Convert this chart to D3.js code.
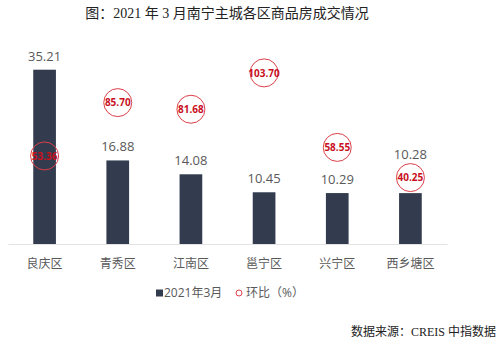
<!DOCTYPE html>
<html>
<head>
<meta charset="utf-8">
<script src="https://cdn.jsdelivr.net/npm/d3@7"></script>
<style>
  html, body { margin: 0; padding: 0; background: #fff; }
  svg { display: block; }
</style>
</head>
<body>
<script>
// 南宁主城各区商品房成交面积（万㎡）及环比
const districts = ["良庆区", "青秀区", "江南区", "邕宁区", "兴宁区", "西乡塘区"];
const volume = [35.21, 16.88, 14.08, 10.45, 10.29, 10.28];
const momChange = [53.36, 85.70, 81.68, 103.70, 58.55, 40.25];
const titleText = "图：2021 年 3 月南宁主城各区商品房成交情况";
const sourceText = "数据来源：CREIS 中指数据";
const legendBar = "2021年3月";
const legendRing = "环比（%）";

const W = 500, H = 344;
const plot = { left: 8, right: 447, top: 46, bottom: 244 };
const ringR = 14;
const sansFont = "'Open Sans', 'Noto Sans CJK SC', sans-serif";
const serifFont = "'Liberation Serif', 'Noto Sans CJK SC', serif";

const svg = d3.select("body").append("svg").attr("width", W).attr("height", H);

const x = d3.scaleBand().domain(districts).range([plot.left, plot.right]).paddingInner(0.69).paddingOuter(0.345);
const yBar = d3.scaleLinear().domain([0, 40]).range([plot.bottom, plot.top]);
const yRing = d3.scaleLinear().domain([0, 120]).range([plot.bottom, plot.top]);

// 标题
svg.append("text")
  .attr("x", 227).attr("y", 18)
  .attr("text-anchor", "middle")
  .style("font-family", serifFont).style("font-size", "14px").attr("fill", "#222")
  .text(titleText);

// 柱形
svg.append("g").selectAll("rect").data(districts).join("rect")
  .attr("x", d => x(d))
  .attr("y", (d, i) => yBar(volume[i]))
  .attr("width", x.bandwidth())
  .attr("height", (d, i) => yBar(0) - yBar(volume[i]))
  .attr("fill", "#323c4e");

// 柱顶数值：与环比圆圈相撞时移到圆圈上方
function barLabelY(i) {
  const y = yBar(volume[i]) - 9;
  const ry = yRing(momChange[i]);
  if (Math.abs((y - 5) - ry) < ringR + 8 && ry < yBar(volume[i])) return ry - ringR - 5;
  return y;
}
svg.append("g").selectAll("text").data(districts).join("text")
  .attr("x", d => x(d) + x.bandwidth() / 2)
  .attr("y", (d, i) => barLabelY(i))
  .attr("text-anchor", "middle")
  .style("font-family", sansFont).style("font-size", "13px").attr("fill", "#595959")
  .text((d, i) => volume[i].toFixed(2));

// 横轴
const xAxis = svg.append("g").attr("transform", `translate(0,${plot.bottom})`)
  .call(d3.axisBottom(x).tickSize(0).tickPadding(15));
xAxis.select(".domain").attr("stroke", "#e3e3e3").attr("stroke-width", 1.2);
xAxis.selectAll("text")
  .style("font-family", sansFont).style("font-size", "12px").attr("fill", "#595959");

// 环比圆圈
const ring = svg.append("g").selectAll("g").data(districts).join("g")
  .attr("transform", (d, i) => `translate(${x(d) + x.bandwidth() / 2},${yRing(momChange[i])})`);
ring.append("circle")
  .attr("r", ringR)
  .attr("fill", "none")
  .attr("stroke", "#dc3f48")
  .attr("stroke-width", 1);
ring.append("text")
  .attr("text-anchor", "middle").attr("dy", "0.36em")
  .style("font-family", sansFont).style("font-size", "10px").style("font-weight", "bold")
  .attr("fill", "#c8101e")
  .text((d, i) => momChange[i].toFixed(2));

// 图例
const legend = svg.append("g").attr("transform", "translate(0,293)");
legend.append("rect").attr("x", 156).attr("y", -3.5).attr("width", 7).attr("height", 7).attr("fill", "#323c4e");
legend.append("text").attr("x", 164).attr("dy", "0.36em")
  .style("font-family", sansFont).style("font-size", "12px").attr("fill", "#595959")
  .text(legendBar);
legend.append("circle").attr("cx", 239).attr("r", 3).attr("fill", "none").attr("stroke", "#dc3f48").attr("stroke-width", 1);
legend.append("text").attr("x", 246).attr("dy", "0.36em")
  .style("font-family", sansFont).style("font-size", "12px").attr("fill", "#595959")
  .text(legendRing);

// 数据来源
svg.append("text")
  .attr("x", 496).attr("y", 336)
  .attr("text-anchor", "end")
  .style("font-family", serifFont).style("font-size", "12px").attr("fill", "#222")
  .text(sourceText);
</script>
</body>
</html>
